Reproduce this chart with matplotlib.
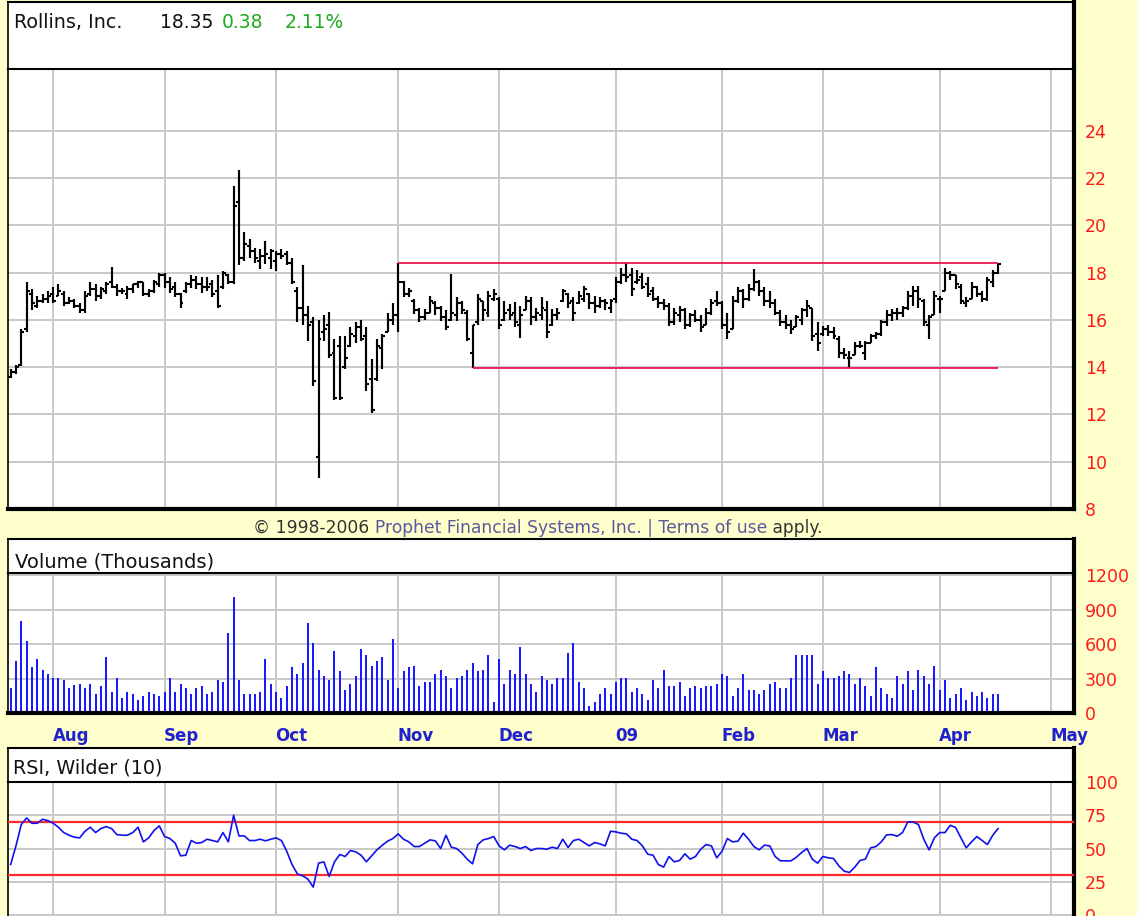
import matplotlib
matplotlib.use("Agg")
import matplotlib.pyplot as plt
import numpy as np

plt.rcParams['font.family'] = ['DejaVu Sans']

W, H, DPI = 1137, 916, 100

# ---------------- data ----------------
company = "Rollins, Inc."
last_price = "18.35"
change_abs = "0.38"
change_pct = "2.11%"

month_labels = ['Aug', 'Sep', 'Oct', 'Nov', 'Dec', '09', 'Feb', 'Mar', 'Apr', 'May']
month_start = [8, 29, 50, 73, 92, 114, 134, 153, 175, 196]   # trading-day index of month start

price_ticks = [8, 10, 12, 14, 16, 18, 20, 22, 24]
volume_ticks = [0, 300, 600, 900, 1200]
rsi_ticks = [0, 25, 50, 75, 100]

opens = [13.6, 13.8, 14.1, 15.6, 17.1, 16.6, 16.8, 16.9, 17.1, 17.0,
         17.1, 16.7, 16.8, 16.6, 16.4, 17.1, 17.3, 17.0, 17.2, 17.6,
         17.4, 17.2, 17.1, 17.3, 17.5, 17.6, 17.1, 17.2, 17.5, 17.9,
         17.6, 17.4, 17.1, 17.2, 17.5, 17.7, 17.5, 17.4, 17.5, 17.2,
         17.4, 17.9, 17.6, 21.0, 18.6, 19.1, 18.9, 18.5, 18.7, 18.6,
         18.5, 18.8, 18.8, 18.4, 17.2, 16.5, 16.2, 15.9, 10.2, 15.5,
         15.8, 14.6, 14.9, 14.0, 14.9, 15.3, 15.7, 15.3, 13.5, 13.5,
         14.8, 15.5, 16.0, 16.2, 17.6, 17.1, 16.8, 16.4, 16.1, 16.3,
         16.7, 16.5, 16.1, 16.0, 16.2, 16.7, 16.3, 14.6, 15.9, 16.8,
         16.3, 16.9, 16.9, 16.0, 16.4, 16.3, 15.8, 16.4, 16.8, 16.1,
         16.2, 16.4, 15.8, 16.2, 16.8, 17.1, 16.8, 16.7, 16.9, 17.1,
         16.7, 16.6, 16.8, 16.5, 16.9, 17.6, 17.9, 17.9, 17.6, 17.8,
         17.5, 17.2, 16.9, 16.7, 16.6, 15.9, 16.2, 16.4, 15.8, 16.2,
         16.0, 15.8, 16.3, 16.8, 16.7, 15.8, 15.6, 16.8, 17.2, 16.9,
         17.3, 17.6, 17.2, 16.8, 16.7, 16.3, 15.9, 15.8, 15.7, 16.0,
         16.4, 16.5, 15.4, 15.4, 15.6, 15.5, 15.2, 14.6, 14.4, 14.5,
         14.9, 14.6, 15.0, 15.3, 15.4, 15.9, 16.2, 16.3, 16.3, 16.5,
         17.0, 17.2, 16.8, 15.8, 16.2, 16.9, 17.2, 18.0, 17.9, 17.4,
         16.7, 16.9, 17.4, 17.1, 16.9, 17.6, 18.0]

highs = [13.9, 14.1, 15.6, 17.6, 17.3, 17.0, 17.1, 17.2, 17.4, 17.5,
         17.2, 16.95, 16.9, 16.7, 17.2, 17.6, 17.5, 17.4, 17.6, 18.25,
         17.5, 17.35, 17.45, 17.5, 17.65, 17.6, 17.3, 17.7, 18.0, 18.0,
         17.8, 17.6, 17.15, 17.6, 17.9, 17.85, 17.8, 17.8, 17.7, 17.9,
         18.05, 17.95, 21.65, 22.35, 19.7, 19.4, 19.05, 19.0, 19.35, 19.0,
         18.9, 19.0, 18.9, 18.6, 17.4, 18.3, 16.6, 16.1, 16.0, 16.2,
         16.35, 15.2, 15.3, 15.3, 15.7, 15.9, 16.0, 15.7, 14.35, 15.2,
         15.4, 16.3, 16.7, 18.42, 17.65, 17.35, 16.9, 16.5, 16.45, 17.0,
         16.8, 16.6, 16.4, 17.95, 16.95, 16.8, 16.4, 15.8, 17.1, 16.8,
         17.2, 17.3, 16.95, 16.8, 16.65, 16.75, 16.6, 17.0, 16.95, 16.5,
         16.95, 16.8, 16.45, 16.5, 17.3, 17.15, 16.95, 17.2, 17.45, 17.15,
         17.0, 16.95, 16.9, 16.9, 17.8, 18.2, 18.4, 18.2, 18.1, 18.0,
         17.8, 17.4, 17.0, 16.9, 16.7, 16.5, 16.6, 16.5, 16.3, 16.4,
         16.2, 16.5, 16.9, 17.2, 16.8, 16.3, 17.0, 17.4, 17.3, 17.5,
         18.15, 17.7, 17.4, 17.2, 16.9, 16.4, 16.2, 16.0, 16.2, 16.5,
         16.85, 16.5, 15.9, 15.75, 15.8, 15.7, 15.3, 14.8, 14.7, 15.05,
         15.1, 15.1, 15.4, 15.5, 16.0, 16.4, 16.45, 16.5, 16.6, 17.2,
         17.45, 17.45, 16.9, 16.2, 17.2, 17.0, 18.2, 18.05, 17.9, 17.5,
         16.95, 17.6, 17.45, 17.2, 17.8, 18.1, 18.42]

lows = [13.55, 13.7, 14.05, 15.5, 16.4, 16.5, 16.7, 16.7, 16.7, 17.0,
        16.6, 16.65, 16.5, 16.3, 16.3, 17.0, 16.8, 16.9, 17.1, 17.35,
        17.0, 17.1, 16.9, 17.15, 17.35, 17.0, 16.95, 17.15, 17.4, 17.35,
        17.15, 16.95, 16.5, 17.15, 17.35, 17.3, 17.15, 17.2, 16.95, 16.5,
        17.3, 17.5, 17.5, 18.3, 18.5, 18.6, 18.4, 18.15, 18.35, 18.15,
        18.05, 18.55, 18.3, 17.5, 15.9, 15.8, 15.1, 13.2, 9.3, 15.1,
        14.4, 12.6, 12.6, 13.9, 14.85, 15.0, 15.1, 13.0, 12.05, 13.4,
        13.9, 15.5, 15.8, 15.5, 16.95, 16.95, 16.25, 15.9, 16.0, 16.3,
        16.2, 15.95, 15.55, 15.95, 15.95, 16.25, 15.1, 13.97, 15.8, 15.95,
        16.1, 16.8, 15.6, 15.95, 16.0, 15.7, 15.25, 16.4, 15.8, 15.95,
        16.0, 15.25, 15.75, 16.0, 16.75, 16.5, 15.95, 16.65, 16.75, 16.45,
        16.3, 16.5, 16.4, 16.3, 16.7, 17.5, 17.6, 17.0, 17.5, 17.3,
        16.95, 16.8, 16.5, 16.4, 15.75, 15.8, 15.9, 15.6, 15.7, 15.9,
        15.5, 15.8, 16.2, 16.6, 15.6, 15.2, 15.6, 16.7, 16.5, 16.8,
        17.2, 17.0, 16.6, 16.5, 16.2, 15.75, 15.6, 15.4, 15.7, 15.8,
        16.1, 15.1, 14.7, 15.3, 15.3, 15.2, 14.4, 14.35, 13.98, 14.5,
        14.8, 14.3, 15.0, 15.2, 15.3, 15.75, 15.95, 16.0, 16.1, 16.4,
        16.6, 16.5, 15.75, 15.2, 16.2, 16.3, 17.2, 17.7, 17.3, 16.65,
        16.55, 16.9, 16.95, 16.75, 16.8, 17.4, 17.95]

closes = [13.8, 14.0, 15.5, 17.2, 16.7, 16.8, 16.9, 17.0, 16.8, 17.2,
          16.7, 16.8, 16.6, 16.4, 17.0, 17.3, 17.0, 17.3, 17.5, 17.4,
          17.2, 17.2, 17.3, 17.5, 17.6, 17.1, 17.2, 17.6, 17.9, 17.6,
          17.3, 17.1, 16.7, 17.5, 17.7, 17.5, 17.4, 17.4, 17.1, 16.6,
          18.0, 17.6, 20.8, 18.6, 19.2, 18.9, 18.6, 18.7, 18.8, 18.9,
          18.8, 18.7, 18.4, 17.6, 16.5, 16.2, 15.8, 13.4, 15.2, 15.6,
          14.5, 12.7, 12.7, 14.4, 15.4, 15.7, 15.2, 13.3, 12.2, 14.9,
          15.3, 16.0, 16.2, 17.6, 17.1, 17.2, 16.4, 16.1, 16.3, 16.8,
          16.5, 16.1, 15.7, 16.3, 16.7, 16.4, 15.2, 15.8, 16.9, 16.4,
          17.0, 17.1, 15.8, 16.3, 16.2, 15.9, 16.2, 16.8, 16.1, 16.3,
          16.5, 15.5, 16.2, 16.3, 17.2, 16.7, 16.3, 17.0, 17.3, 16.7,
          16.6, 16.8, 16.7, 16.8, 17.6, 17.9, 17.8, 17.3, 17.7, 17.4,
          17.1, 16.9, 16.7, 16.6, 15.9, 16.3, 16.4, 15.8, 16.2, 16.0,
          15.7, 16.3, 16.7, 16.7, 15.8, 15.5, 16.8, 17.2, 16.9, 17.3,
          17.6, 17.2, 16.8, 16.7, 16.3, 15.9, 15.8, 15.6, 16.1, 16.4,
          16.6, 15.3, 15.0, 15.6, 15.5, 15.3, 14.6, 14.5, 14.4, 14.9,
          14.9, 15.0, 15.3, 15.4, 15.9, 16.2, 16.3, 16.3, 16.5, 17.0,
          17.2, 16.9, 15.9, 16.1, 17.0, 16.9, 18.0, 17.9, 17.5, 16.8,
          16.8, 17.4, 17.1, 16.9, 17.7, 17.97, 18.35]

volume = [220, 450, 803, 626, 397, 467, 379, 344, 309, 309,
          291, 220, 244, 256, 220, 256, 168, 238, 485, 185,
          309, 132, 185, 168, 115, 150, 185, 168, 150, 185,
          309, 185, 256, 220, 168, 220, 238, 168, 185, 291,
          273, 697, 1014, 291, 168, 168, 168, 185, 467, 256,
          185, 132, 238, 397, 344, 432, 785, 609, 379, 326,
          291, 538, 362, 203, 256, 326, 556, 503, 414, 450,
          485, 291, 644, 220, 362, 397, 414, 238, 273, 273,
          344, 379, 326, 220, 309, 326, 379, 432, 362, 379,
          503, 97, 467, 256, 379, 344, 574, 344, 256, 185,
          326, 291, 256, 309, 309, 520, 609, 273, 220, 59,
          97, 168, 220, 168, 273, 309, 309, 185, 220, 168,
          115, 291, 220, 379, 238, 238, 273, 150, 220, 238,
          220, 238, 238, 256, 344, 326, 150, 220, 344, 203,
          203, 168, 203, 256, 273, 220, 220, 309, 503, 503,
          503, 503, 256, 362, 309, 309, 326, 362, 344, 256,
          309, 238, 150, 397, 220, 168, 132, 326, 256, 362,
          203, 379, 326, 256, 414, 203, 291, 132, 168, 220,
          115, 185, 150, 185, 132, 168, 168]

rsi = [38, 52, 68, 73, 69, 69, 72, 71, 69, 66,
       62, 60, 58.5, 58, 63, 66, 62, 65, 66.5, 65,
       60.5, 60, 60, 62, 66, 55, 58, 63.5, 67, 59,
       57.5, 54, 44.5, 45, 56, 54, 54.5, 57, 56, 55,
       62, 55, 75, 59.5, 59.5, 56, 56, 57, 55.75, 57,
       58, 56, 48, 38, 31, 29.5, 27, 21, 39, 40,
       29, 40, 45.5, 44, 48.5, 47.5, 45, 40, 44.5, 49,
       52.5, 55.5, 57.5, 61, 57, 55, 51.5, 51.5, 54, 56.5,
       55.75, 50, 60, 51, 50, 46.5, 42, 38.5, 53, 56.5,
       57.5, 59, 52, 49, 52.5, 51.5, 50, 51.5, 48.5, 50,
       50, 49.5, 51, 50, 57, 50.75, 56, 57, 54.5, 52,
       54.5, 53.5, 52, 63, 62.5, 61.5, 61, 57, 56, 52,
       45.75, 45, 38, 36, 44, 40, 41, 46, 42, 44,
       49.5, 53, 52, 43, 48, 57.5, 55, 55.5, 61.5, 57,
       51.5, 49, 52.5, 52, 44, 40.75, 40.75, 40.75, 43.5, 47,
       50, 42, 39, 44, 43, 42.5, 37, 33, 32, 36,
       41, 42, 50.5, 51.5, 55, 60.25, 60.5, 59.25, 62, 70,
       70, 68, 57, 49, 58, 62, 62, 67.5, 65.75, 58,
       50.5, 55, 59, 56, 53, 60, 65]

resistance = 18.42
support = 13.97
resistance_start = 73
support_start = 87
channel_end = 186
rsi_upper = 70
rsi_lower = 30

# ---------------- styling ----------------
BG = '#FFFFCC'
GRID = '#c8c8c8'
AXRED = '#ff1a1a'
XLIM = (-0.5, 200.3)

fig = plt.figure(figsize=(W / DPI, H / DPI), dpi=DPI, facecolor=BG)


def box(x0, y0, x1, y1):
    return [x0 / W, 1 - y1 / H, (x1 - x0) / W, (y1 - y0) / H]


def frame(ax, top, left, right, bottom):
    for side, lw in (('top', top), ('left', left), ('right', right), ('bottom', bottom)):
        if lw <= 0:
            ax.spines[side].set_visible(False)
        else:
            ax.spines[side].set_linewidth(lw)
            ax.spines[side].set_color('black')


def header(y0, y1):
    ax = fig.add_axes(box(8, y0, 1074, y1))
    ax.set_facecolor('white')
    ax.set_xticks([])
    ax.set_yticks([])
    frame(ax, top=1.5, left=1.2, right=3.0, bottom=0)
    return ax


def panel(y0, y1, ylim, ticks, bottom_lw=3.0):
    ax = fig.add_axes(box(8, y0, 1074, y1))
    ax.set_facecolor('white')
    ax.set_xlim(*XLIM)
    ax.set_ylim(*ylim)
    ax.set_xticks(month_start)
    ax.set_yticks(ticks)
    ax.yaxis.tick_right()
    ax.tick_params(axis='x', length=0, labelbottom=False)
    ax.tick_params(axis='y', length=0, pad=8, labelcolor=AXRED, labelsize=12.5)
    ax.grid(True, color=GRID, lw=1.4)
    ax.set_axisbelow(True)
    frame(ax, top=1.5, left=1.2, right=3.0, bottom=bottom_lw)
    return ax


x = np.arange(len(closes))

# ---- price panel ----
hdr_p = header(2, 69)
ax_p = panel(69, 509, (8, 8 + (509 - 69) / 23.65), price_ticks)
ax_p.vlines(x, lows, highs, color='black', lw=1.55)
ax_p.hlines(opens, x - 0.55, x, color='black', lw=1.5)
ax_p.hlines(closes, x, x + 0.55, color='black', lw=1.5)
ax_p.hlines([resistance], resistance_start, channel_end, color='#e8174f', lw=1.3, zorder=3)
ax_p.hlines([support], support_start, channel_end, color='#e8174f', lw=1.3, zorder=3)

fig.text(14 / W, 1 - 28 / H, company, fontsize=13.8, color='#111111', va='baseline')
fig.text(160 / W, 1 - 28 / H, last_price, fontsize=13.5, color='#111111', va='baseline')
fig.text(222 / W, 1 - 28 / H, change_abs, fontsize=13.5, color='#1faa1f', va='baseline')
fig.text(285 / W, 1 - 28 / H, change_pct, fontsize=13.5, color='#1faa1f', va='baseline')

# ---- volume panel ----
hdr_v = header(539, 573)
ax_v = panel(573, 713, (0, 140 / 34.4 * 300), volume_ticks)
ax_v.vlines(x, 0, volume, color='#1414ff', lw=1.4)
fig.text(15 / W, 1 - 567 / H, 'Volume (Thousands)', fontsize=14, color='#111111', va='baseline')
for ms, lab in zip(month_start, month_labels):
    ax_v.text(ms - 0.1, -0.2, lab, transform=ax_v.get_xaxis_transform(), ha='left',
              va='baseline', color='#2222cc', fontsize=12, fontweight='bold', clip_on=False)

# ---- RSI panel ----
hdr_r = header(748, 782)
ax_r = panel(782, 935, (-15, 100), rsi_ticks, bottom_lw=0)
ax_r.plot(x, rsi, color='#1010ee', lw=1.2, zorder=4)
ax_r.axhline(rsi_upper, color='#ff2a2a', lw=1.6, zorder=3)
ax_r.axhline(rsi_lower, color='#ff2a2a', lw=1.6, zorder=3)
fig.text(13 / W, 1 - 774 / H, 'RSI, Wilder (10)', fontsize=13.8, color='#111111', va='baseline')

# ---- copyright line ----
fig.canvas.draw()
renderer = fig.canvas.get_renderer()
parts = [('\u00a9 1998-2006 ', '#333333'),
         ('Prophet Financial Systems, Inc. | Terms of use', '#5a5aa0'),
         (' apply.', '#333333')]
xpos = 253
for txt, col in parts:
    t = fig.text(xpos / W, 1 - 533 / H, txt, fontsize=12.3, color=col, va='baseline')
    bb = t.get_window_extent(renderer)
    xpos = bb.x1

fig.savefig('out.png', dpi=DPI, facecolor=BG)
